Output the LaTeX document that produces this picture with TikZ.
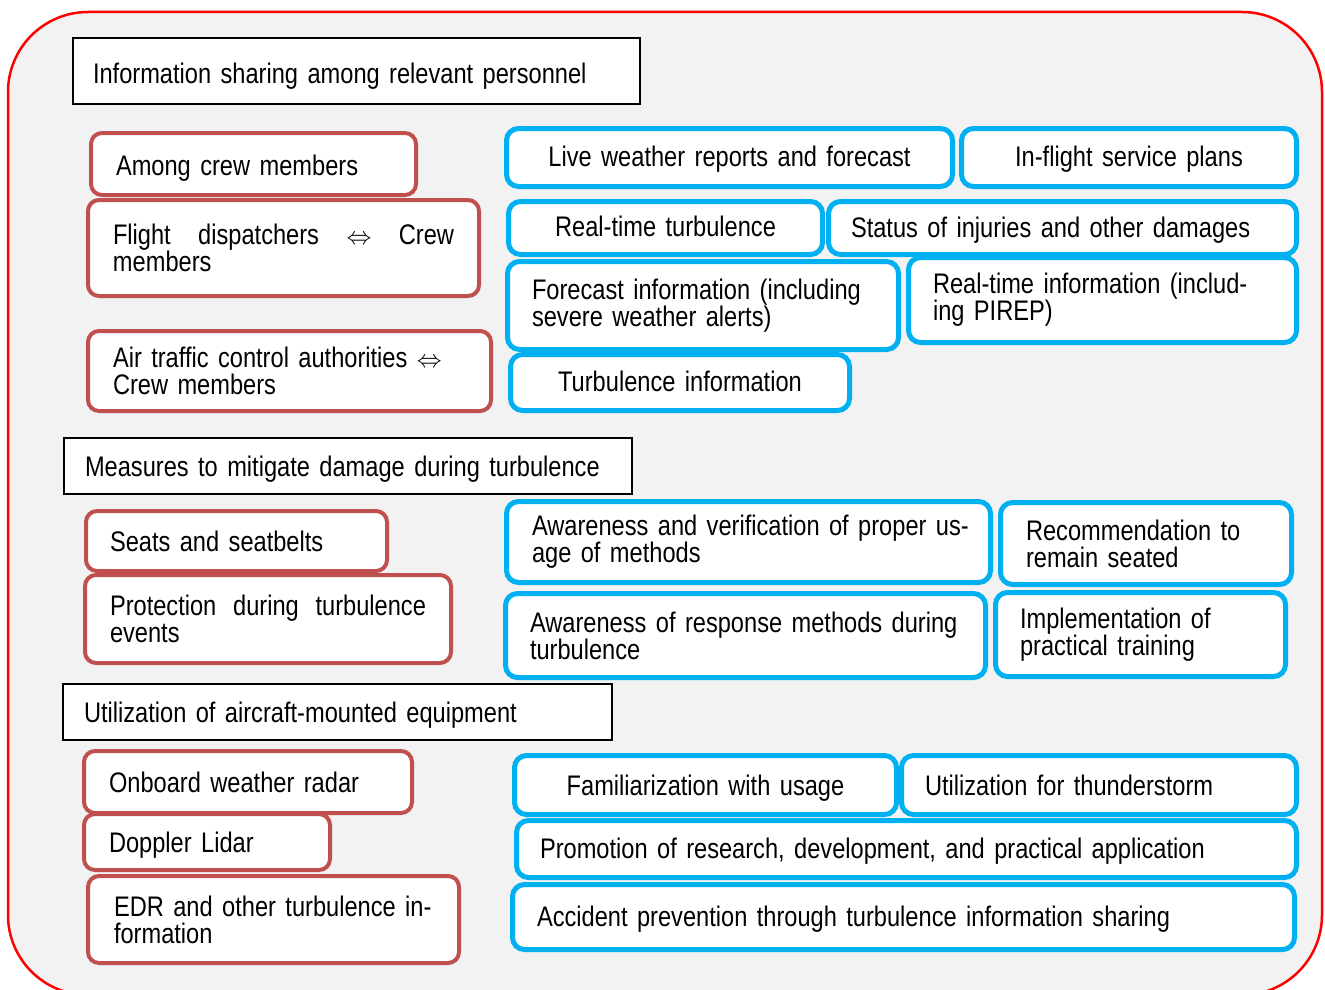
\documentclass[tikz,border=0pt]{standalone}
\usepackage{fontspec}
\setmainfont{Liberation Sans}[FakeStretch=0.835]
\definecolor{myred}{HTML}{C0504D}
\definecolor{myblue}{HTML}{00B0F0}
\definecolor{bgray}{HTML}{F2F2F2}
\newcommand\nb[1]{\mbox{#1}}
\newcommand\dar{{\fontsize{23}{23}\selectfont$\Leftrightarrow$}}
\begin{document}
\begin{tikzpicture}[x=1pt,y=-1pt,
  every node/.style={font=\fontsize{28.3}{27}\selectfont, inner sep=0pt, text=black},
  hdr/.style={draw=black, line width=2pt, fill=white, align=left},
  rbox/.style={draw=myred, line width=4pt, fill=white, rounded corners=11pt, align=left},
  bbox/.style={draw=myblue, line width=5pt, fill=white, rounded corners=12pt, align=left},
  cbox/.style={bbox, align=center},
  sz/.style 2 args={minimum width=#1pt, minimum height=#2pt},
  bl/.style={text height=2*#1 pt, text depth=0pt},
]
\useasboundingbox (0,0) rectangle (1325,990);
\fill[white] (0,0) rectangle (1325,990);
\begin{scope}
\clip (0,0) rectangle (1325,990);
\draw[red, line width=2.5pt, fill=bgray, rounded corners=80pt] (8,12) rectangle (1322,995);
\end{scope}

% headers
\node[hdr, sz={567}{66}, text width=527pt, bl=12] (h1) at (356.5,71) {\nb{Information sharing among relevant personnel}};
\node[hdr, sz={568}{56}, text width=526pt, bl=10] (h2) at (348,466) {\nb{Measures to mitigate damage during turbulence}};
\node[hdr, sz={549}{56}, text width=507pt, bl=10] (h3) at (337.5,712) {\nb{Utilization of aircraft-mounted equipment}};

% red boxes
\node[rbox, sz={325}{62}, text width=275pt, bl=11] (r1) at (253.5,164) {\nb{Among crew members}};
\node[rbox, sz={391}{96}, text width=341pt] (r2) at (283.5,248) {\makebox[341pt][l]{Flight\hfill dispatchers\hfill\dar\hfill Crew}\\members};
\node[rbox, sz={403}{80}, text width=353pt] (r3) at (289.5,371) {\nb{Air traffic control authorities \dar}\\\nb{Crew members}};
\node[rbox, sz={301}{60}, text width=253pt, bl=10] (r4) at (236.5,541) {\nb{Seats and seatbelts}};
\node[rbox, sz={366}{88}, text width=316pt] (r5) at (268,619) {\makebox[316pt][l]{Protection\hfill during\hfill turbulence}\\events};
\node[rbox, sz={328}{62}, text width=278pt, bl=10] (r6) at (248,782) {\nb{Onboard weather radar}};
\node[rbox, sz={246}{56}, text width=196pt, bl=10] (r7) at (207,842) {\nb{Doppler Lidar}};
\node[rbox, sz={371}{87}, text width=319pt] (r8) at (273.5,919.5) {\nb{EDR and other turbulence in-}\\\nb{formation}};

% blue boxes
\node[cbox, sz={446}{58}, text width=446pt, bl=8.5] (b1) at (729.5,157.5) {\nb{Live weather reports and forecast}};
\node[cbox, sz={335}{58}, text width=335pt, bl=8.5] (b2) at (1129,157.5) {\nb{In-flight service plans}};
\node[cbox, sz={314}{53}, text width=314pt, bl=8.5] (b3) at (665.5,228) {\nb{Real-time turbulence}};
\node[bbox, sz={468}{53}, text width=423pt, bl=9] (b4) at (1062.5,228) {\nb{Status of injuries and other damages}};
\node[bbox, sz={391}{88}, text width=342pt] (b5) at (703,305.5) {\nb{Forecast information (including}\\\nb{severe weather alerts)}};
\node[bbox, sz={388}{85}, text width=339pt] (b6) at (1102.5,300) {\nb{Real-time information (includ-}\\\nb{ing PIREP)}};
\node[cbox, sz={339}{56}, text width=339pt, bl=9] (b7) at (680,382.5) {\nb{Turbulence information}};
\node[bbox, sz={484}{81}, text width=433pt] (b8) at (748.5,542) {\nb{Awareness and verification of proper us-}\\\nb{age of methods}};
\node[bbox, sz={291}{82}, text width=240pt] (b9) at (1146,543.5) {\nb{Recommendation to}\\\nb{remain seated}};
\node[bbox, sz={480}{84}, text width=431pt] (b10) at (745.5,635.5) {\nb{Awareness of response methods during}\\\nb{turbulence}};
\node[bbox, sz={290}{84}, text width=241pt] (b11) at (1140.5,634.5) {\nb{Implementation of}\\\nb{practical training}};
\node[cbox, sz={382}{59}, text width=382pt, bl=10] (b12) at (705.5,785) {\nb{Familiarization with usage}};
\node[bbox, sz={395}{59}, text width=348pt, bl=10] (b13) at (1099,785) {\nb{Utilization for thunderstorm}};
\node[bbox, sz={780}{57}, text width=733pt, bl=9] (b14) at (906.5,849) {\nb{Promotion of research, development, and practical application}};
\node[bbox, sz={782}{65}, text width=733pt, bl=9] (b15) at (903.5,917) {\nb{Accident prevention through turbulence information sharing}};
\end{tikzpicture}
\end{document}
